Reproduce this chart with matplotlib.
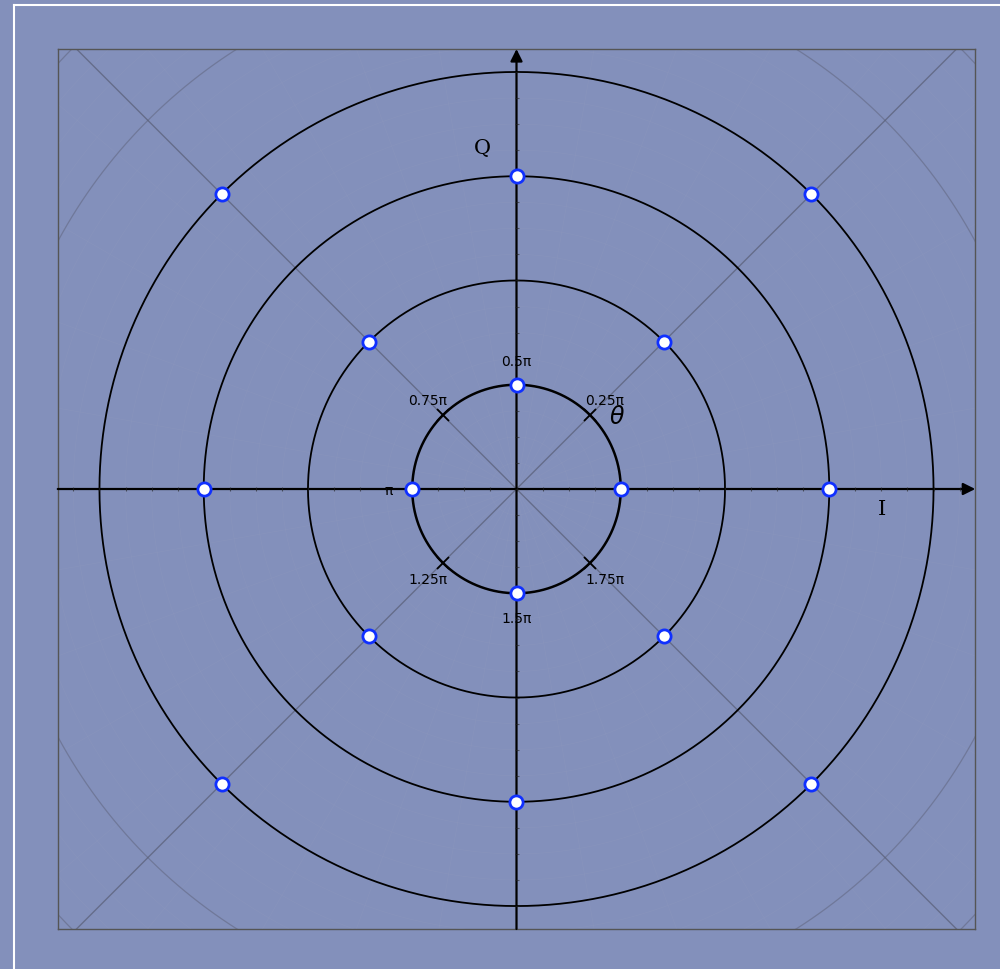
import numpy as np
import matplotlib
matplotlib.use("Agg")
import matplotlib.pyplot as plt
from matplotlib.lines import Line2D

# constellation: 4 rings, 4 symbols per ring
ring_amp = [1, 2, 3, 4]
ring_phase = [0.0, 0.25, 0.0, 0.25]   # in units of pi
n_per_ring = 4

# phase labels on the unit circle
phase_labels = ["0.25π", "0.5π", "0.75π", "π", "1.25π", "1.5π", "1.75π"]
phase_vals = [0.25, 0.5, 0.75, 1.0, 1.25, 1.5, 1.75]

bg = "#8390bb"
xlim = 4.4
ylim = 4.22

fig = plt.figure(figsize=(10, 9.69), dpi=100, facecolor=bg)
ax = fig.add_axes([0.057, 0.0413, 0.919, 0.9081])
ax.set_facecolor(bg)
ax.set_xlim(-xlim, xlim)
ax.set_ylim(-ylim, ylim)
ax.set_aspect("equal")
ax.set_xticks([])
ax.set_yticks([])
for s in ax.spines.values():
    s.set_color("#555555")
    s.set_linewidth(1.0)

t = np.linspace(0, 2 * np.pi, 721)

# faint polar grid
for r in np.arange(0.25, 6.5, 0.25):
    ax.plot(r * np.cos(t), r * np.sin(t), color="#9ca3bf", lw=0.5, alpha=0.18, zorder=1)
for a in np.deg2rad(np.arange(0, 360, 10)):
    ax.plot([0, 7 * np.cos(a)], [0, 7 * np.sin(a)], color="#9ca3bf", lw=0.5, alpha=0.18, zorder=1)

# grey diagonals and outer grey circles
for a in [np.pi / 4, 3 * np.pi / 4]:
    ax.plot([-8 * np.cos(a), 8 * np.cos(a)], [-8 * np.sin(a), 8 * np.sin(a)],
            color="#555a70", lw=1.0, alpha=0.65, zorder=2)
for r in [5, 6]:
    ax.plot(r * np.cos(t), r * np.sin(t), color="#5a5f78", lw=0.9, alpha=0.5, zorder=2)

# black amplitude circles
for r in ring_amp:
    ax.plot(r * np.cos(t), r * np.sin(t), color="black", lw=1.8 if r == 1 else 1.3, zorder=3)

# axes with arrows
ax.annotate("", xy=(xlim, 0), xytext=(-xlim, 0),
            arrowprops=dict(arrowstyle="-|>", color="black", lw=1.6, mutation_scale=18,
                            shrinkA=0, shrinkB=0), zorder=4, annotation_clip=False)
ax.annotate("", xy=(0, ylim), xytext=(0, -ylim),
            arrowprops=dict(arrowstyle="-|>", color="black", lw=1.6, mutation_scale=18,
                            shrinkA=0, shrinkB=0), zorder=4, annotation_clip=False)
ticks = np.arange(-4.25, 4.26, 0.25)
ax.plot(ticks, np.zeros_like(ticks), ls="none", marker="|", ms=2.5, mew=0.8,
        color="#222222", alpha=0.6, zorder=4)
ax.plot(np.zeros_like(ticks), ticks, ls="none", marker="_", ms=2.5, mew=0.8,
        color="#222222", alpha=0.6, zorder=4)

# phase crosses at odd multiples of pi/4 on unit circle
for p in [0.25, 0.75, 1.25, 1.75]:
    ax.plot(np.cos(p * np.pi), np.sin(p * np.pi), marker="x", ms=8, mew=1.3, color="black", zorder=5)

# phase labels
for lab, p in zip(phase_labels, phase_vals):
    a = p * np.pi
    if p == 0.5:
        x, y = 0, 1.22
    elif p == 1.5:
        x, y = 0, -1.25
    elif p == 1.0:
        x, y = -1.23, -0.02
    else:
        x, y = 1.2 * np.cos(a), 1.2 * np.sin(a) + (0.0 if np.sin(a) > 0 else -0.02)
    ax.text(x, y, lab, ha="center", va="center", fontsize=10, color="black",
            family="DejaVu Sans", zorder=6)

ax.text(0.96, 0.69, r"$\theta$", ha="center", va="center", fontsize=17, color="black", zorder=6)
ax.text(-0.33, 3.27, "Q", ha="center", va="center", fontsize=15, color="black",
        family="DejaVu Serif", zorder=6)
ax.text(3.51, -0.2, "I", ha="center", va="center", fontsize=15, color="black",
        family="DejaVu Serif", zorder=6)

# symbols
for amp, ph in zip(ring_amp, ring_phase):
    ang = ph * np.pi + np.arange(n_per_ring) * np.pi / 2
    ax.plot(amp * np.cos(ang), amp * np.sin(ang), ls="none", marker="o", ms=9.5,
            mfc="white", mec="#1030ff", mew=2.0, zorder=7)

# white frame near figure edge
fig.add_artist(Line2D([0.0135, 0.0135], [-0.1, 0.9948], color="white", lw=1.5))
fig.add_artist(Line2D([0.0135, 1.1], [0.9948, 0.9948], color="white", lw=1.5))

fig.savefig("out.png", dpi=100, facecolor=bg)
